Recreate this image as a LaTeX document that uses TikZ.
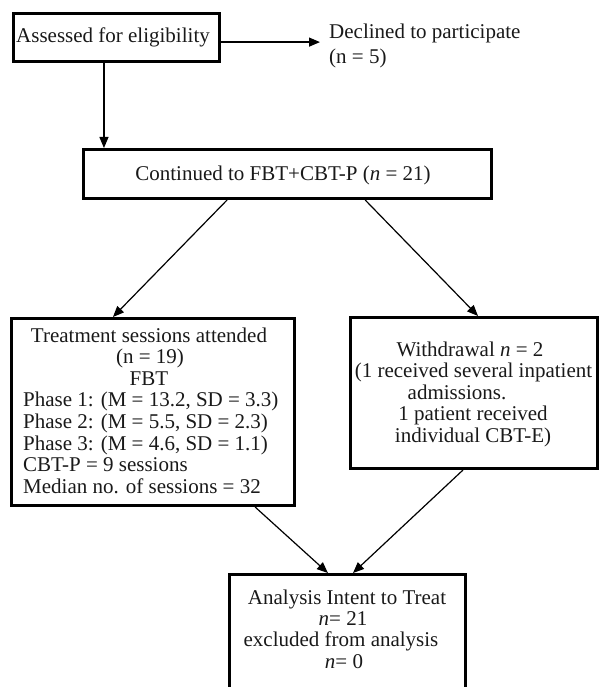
\documentclass[tikz,border=0pt]{standalone}
\usepackage{fontspec}
\setmainfont{Liberation Serif}
\usetikzlibrary{arrows.meta,calc}
\begin{document}
\begin{tikzpicture}[x=1pt,y=-1pt,
  box/.style={draw=black,line width=3pt,inner sep=0pt},
  txt/.style={inner sep=0pt,anchor=base,text=black!90,font=\fontsize{21}{21.6}\selectfont},
  txtl/.style={txt,anchor=base west},
  arr/.style={line width=1.2pt,draw=black,-{Triangle[length=11pt,width=9pt]}}]
\useasboundingbox (0,0) rectangle (600,687);
\clip (0,0) rectangle (600,687);

% boxes
\node[box,minimum width=206pt,minimum height=48pt] (b1) at (116.5,37.5) {};
\node[box,minimum width=408pt,minimum height=49pt] (b2) at (287.5,174) {};
\node[box,minimum width=283pt,minimum height=187pt] (b3) at (153,412) {};
\node[box,minimum width=247pt,minimum height=151pt] (b4) at (474,393) {};
\node[box,minimum width=236pt,minimum height=134pt] (b5) at (347.5,641.5) {};

% texts
\node[txt] (t1) at (113,43) {Assessed for eligibility};
\node[txtl,inner xsep=9pt] (dec1) at (320,38.5) {Declined to participate};
\node[txtl] (dec2) at (329,63.5) {(n = 5)};

\node[txt] (t2) at (283,180) {Continued to FBT+CBT-P (\textit{n} = 21)};

\node[txt] (t3a) at (149,342) {Treatment sessions attended};
\node[txt] (t3b) at (150,363.6) {(n = 19)};
\node[txt] (t3c) at (149,385.2) {FBT};
\node[txtl] (t3d) at (23,406.8) {Phase 1: (M = 13.2, SD = 3.3)};
\node[txtl] (t3e) at (23,428.4) {Phase 2: (M = 5.5, SD = 2.3)};
\node[txtl] (t3f) at (23,450) {Phase 3: (M = 4.6, SD = 1.1)};
\node[txtl] (t3g) at (23,471.6) {CBT-P = 9 sessions};
\node[txtl] (t3h) at (23,493.2) {Median no. of sessions = 32};

\node[txt] (t4a) at (470,356) {Withdrawal \textit{n} = 2};
\node[txt] (t4b) at (473.5,377.5) {(1 received several inpatient};
\node[txt] (t4c) at (457,399) {admissions.};
\node[txt] (t4d) at (473,420.5) {1 patient received};
\node[txt] (t4e) at (473,442) {individual CBT-E)};

\node[txt] (t5a) at (347,604) {Analysis Intent to Treat};
\node[txt] (t5b) at (343,625.3) {\textit{n}= 21};
\node[txt] (t5c) at (341,646.6) {excluded from analysis};
\node[txt] (t5d) at (344,668) {\textit{n}= 0};

% connectors
\path ($(b1.north east)!0.59!(b1.south east)$) coordinate (p1);
\draw[arr] (p1) -- (p1 -| dec1.west);
\path ($(b1.south west)!0.44!(b1.south east)$) coordinate (p2);
\draw[arr] (p2) -- (p2 |- b2.north);
\draw[arr] ($(b2.south west)!0.353!(b2.south east)$) -- ($(b3.north west)!0.36!(b3.north east)$);
\draw[arr] ($(b2.south west)!0.689!(b2.south east)$) -- ($(b4.north west)!0.516!(b4.north east)$);
\draw[arr] ($(b3.south west)!0.857!(b3.south east)$) -- ($(b5.north west)!0.418!(b5.north east)$);
\draw[arr] ($(b4.south west)!0.456!(b4.south east)$) -- ($(b5.north west)!0.523!(b5.north east)$);
\end{tikzpicture}
\end{document}
